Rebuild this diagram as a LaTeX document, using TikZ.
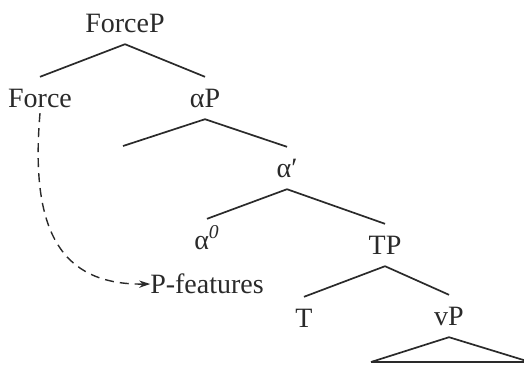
\documentclass[tikz,border=0pt]{standalone}
\usepackage{fontspec}
\setmainfont{Liberation Serif}
\usepackage{tikz}
\usetikzlibrary{positioning,arrows.meta}
\definecolor{TreeInk}{HTML}{2A2A2A}

\begin{document}
\begin{tikzpicture}[x=0.5pt,y=-0.5pt,
    lab/.style={font=\fontsize{14}{16}\selectfont, text height=9.2pt, text depth=0pt,
                inner sep=0pt, outer xsep=0pt, outer ysep=6pt, text=TreeInk},
    branch/.style={draw=TreeInk, line width=0.85pt},
    movearrow/.style={draw=TreeInk, line width=0.7pt, dash pattern=on 4.5pt off 3pt,
                      -{Stealth[length=5.5pt,width=3.6pt]}}]
  \useasboundingbox (0,0) rectangle (524,365);
  % tree nodes
  \node[lab] (forceP) at (125,23) {ForceP};
  \node[lab] (force) at (40,98) {Force};
  \node[lab] (alphaP) at (205,98) {αP};
  \coordinate (spec) at (123,146);
  \node[lab] (alphaBar) at (287,168) {α′};
  \node[lab] (alphaZero) at (207,240) {α\textsuperscript{\textit{0}}};
  \node[lab] (tP) at (385,245) {TP};
  \node[lab] (t) at (304,318) {T};
  \node[lab] (vP) at (449,316) {vP};
  \coordinate (vpL) at (371,362);
  \coordinate (vpR) at (530,362);
  \node[lab] (pFeat) at (207,284) {P-features};
  % branches
  \draw[branch] (forceP.south) -- (force.north);
  \draw[branch] (forceP.south) -- (alphaP.north);
  \draw[branch] (alphaP.south) -- (spec);
  \draw[branch] (alphaP.south) -- (alphaBar.north);
  \draw[branch] (alphaBar.south) -- (alphaZero.north);
  \draw[branch] (alphaBar.south) -- (tP.north);
  \draw[branch] (tP.south) -- (t.north);
  \draw[branch] (tP.south) -- (vP.north);
  \draw[branch] (vP.south) -- (vpL);
  \draw[branch] (vP.south) -- (vpR);
  \draw[branch, line width=1.4pt] (vpL) -- (vpR);
  % feature movement
  \draw[movearrow] ([yshift=3pt]force.south) .. controls (30,230) and (60,285) .. (pFeat.west);
\end{tikzpicture}
\end{document}
